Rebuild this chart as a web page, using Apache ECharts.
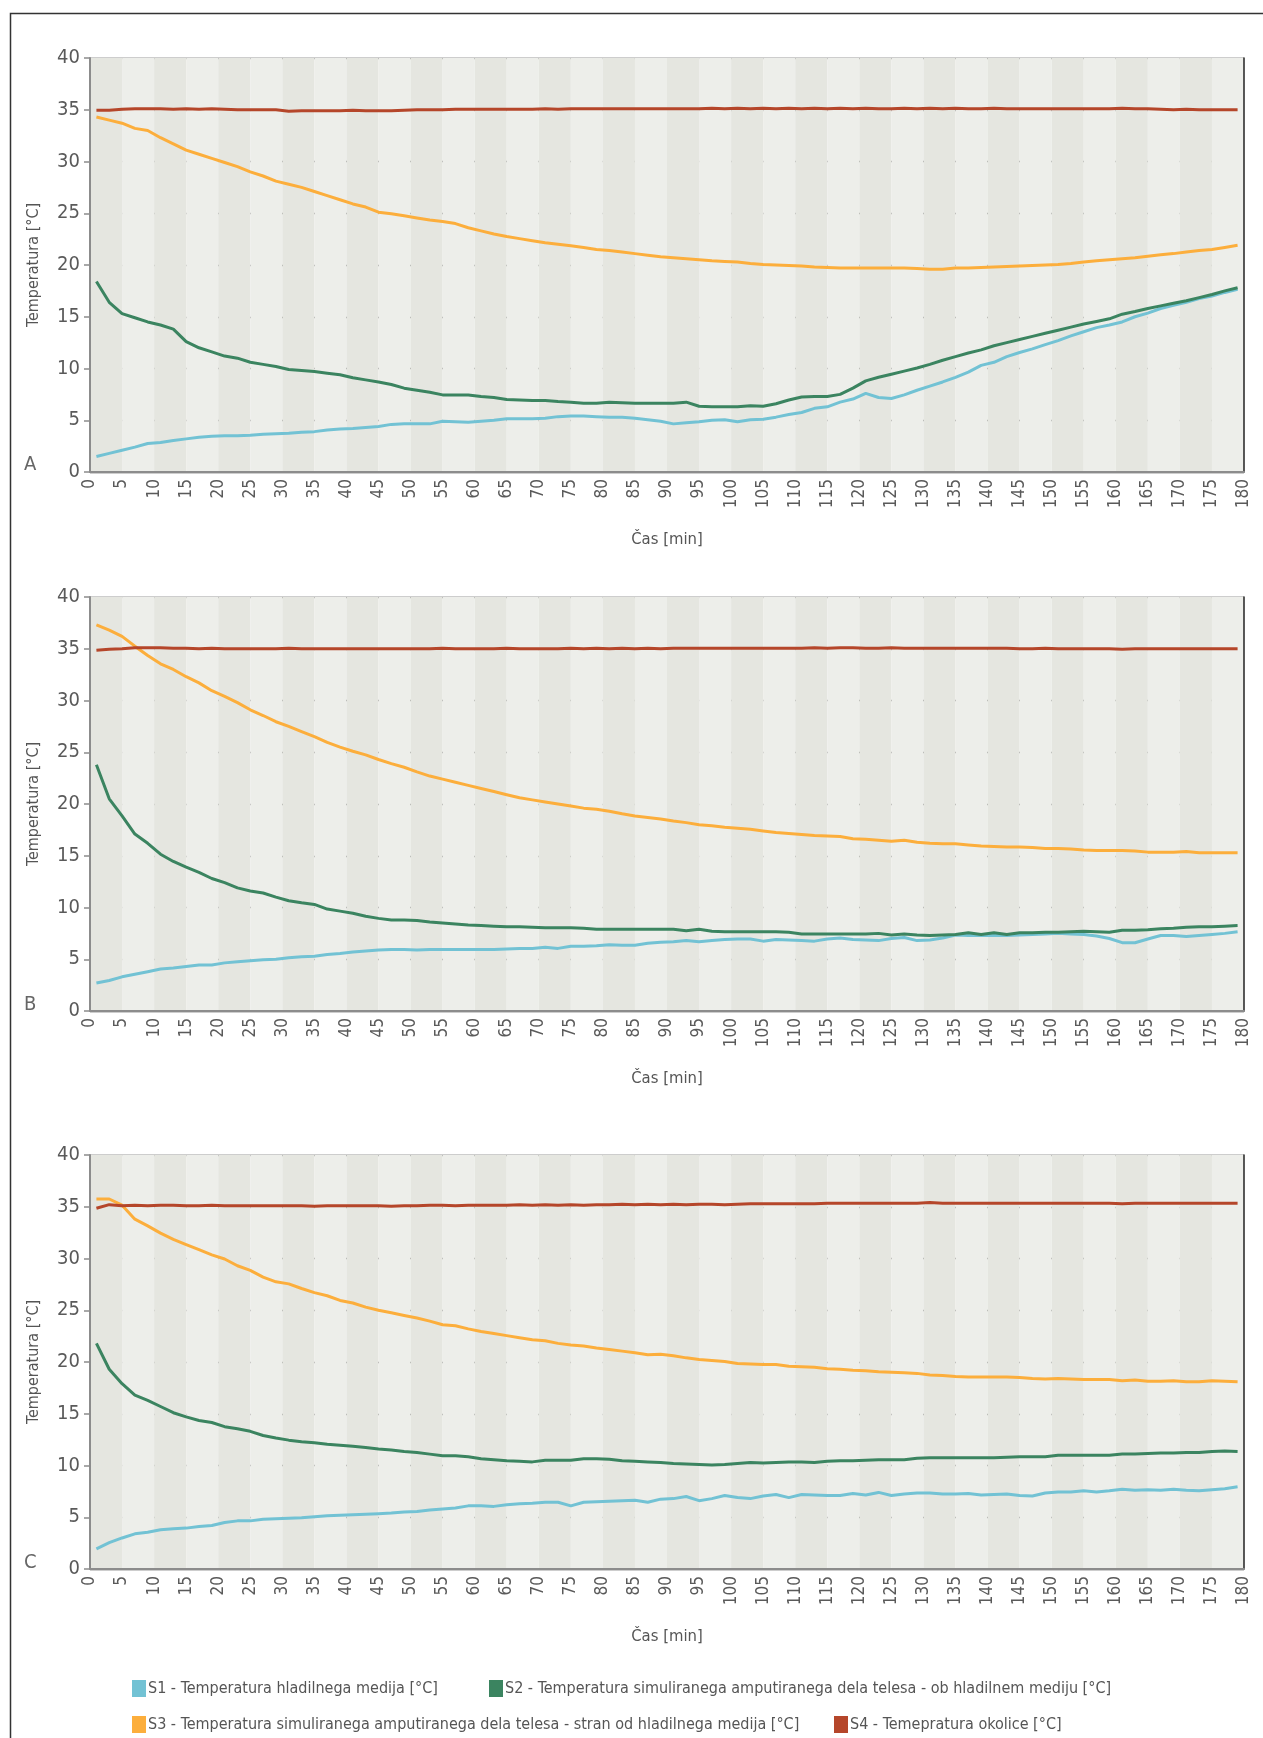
<!DOCTYPE html>
<html>
<head>
<meta charset="utf-8">
<script src="https://cdn.jsdelivr.net/npm/echarts@6/dist/echarts.min.js"></script>
<style>
html,body{margin:0;padding:0;background:#fff;}
#chart{width:1263px;height:1738px;}
</style>
</head>
<body>
<div id="chart"></div>
<script>
// ---- data ----
const TIME = [1,3,5,7,9,11,13,15,17,19,21,23,25,27,29,31,33,35,37,39,41,43,45,47,49,51,53,55,57,59,61,63,65,67,69,71,73,75,77,79,81,83,85,87,89,91,93,95,97,99,101,103,105,107,109,111,113,115,117,119,121,123,125,127,129,131,133,135,137,139,141,143,145,147,149,151,153,155,157,159,161,163,165,167,169,171,173,175,177,179];

const SERIES_NAMES = [
  'S1 - Temperatura hladilnega medija [°C]',
  'S2 - Temperatura simuliranega amputiranega dela telesa - ob hladilnem mediju [°C]',
  'S3 - Temperatura simuliranega amputiranega dela telesa - stran od hladilnega medija [°C]',
  'S4 - Temepratura okolice [°C]'
];
const PANEL_LABELS = ['A', 'B', 'C'];
const X_TITLE = 'Čas [min]';
const Y_TITLE = 'Temperatura [°C]';

// Panel A
const A_S1 = [1.5,1.8,2.1,2.4,2.75, 2.85,3.05,3.2,3.35,3.45, 3.5,3.5,3.55,3.65,3.7, 3.75,3.85,3.9,4.05,4.15, 4.2,4.3,4.4,4.6,4.65, 4.65,4.65,4.9,4.85,4.8, 4.9,5.0,5.15,5.15,5.15, 5.2,5.35,5.4,5.4,5.35, 5.3,5.3,5.2,5.05,4.9, 4.65,4.75,4.85,5.0,5.05, 4.85,5.05,5.1,5.3,5.55, 5.75,6.15,6.3,6.75,7.05, 7.6,7.2,7.1,7.45,7.9, 8.3,8.7,9.15,9.65,10.3, 10.6,11.15,11.55,11.9,12.3, 12.7,13.15,13.55,13.95,14.2, 14.5,15.0,15.35,15.8,16.1, 16.4,16.75,17.0,17.35,17.65];
const A_S2 = [18.4,16.4,15.3,14.9,14.5, 14.2,13.8,12.6,12.0,11.6, 11.2,11.0,10.6,10.4,10.2, 9.9,9.8,9.7,9.55,9.4, 9.1,8.9,8.7,8.45,8.1, 7.9,7.7,7.45,7.45,7.45, 7.3,7.2,7.0,6.95,6.9, 6.9,6.8,6.75,6.65,6.65, 6.75,6.7,6.65,6.65,6.65, 6.65,6.75,6.35,6.3,6.3, 6.3,6.4,6.35,6.6,6.95, 7.25,7.3,7.3,7.5,8.1, 8.8,9.15,9.45,9.75,10.05, 10.4,10.8,11.15,11.5,11.8, 12.2,12.5,12.8,13.1,13.4, 13.7,14.0,14.3,14.55,14.8, 15.25,15.5,15.8,16.05,16.3, 16.55,16.85,17.15,17.5,17.8];
const A_S3 = [34.3,34.0,33.7,33.2,33.0, 32.3,31.7,31.1,30.7,30.3, 29.9,29.5,29.0,28.6,28.1, 27.8,27.5,27.1,26.7,26.3, 25.9,25.6,25.1,24.95,24.75, 24.55,24.35,24.2,24.0,23.6, 23.3,23.0,22.75,22.55,22.35, 22.15,22.0,21.85,21.7,21.5, 21.4,21.25,21.1,20.95,20.8, 20.7,20.6,20.5,20.4,20.35, 20.3,20.15,20.05,20.0,19.95, 19.9,19.8,19.75,19.7,19.7, 19.7,19.7,19.7,19.7,19.65, 19.6,19.6,19.7,19.7,19.75, 19.8,19.85,19.9,19.95,20.0, 20.05,20.15,20.3,20.4,20.5, 20.6,20.7,20.85,21.0,21.1, 21.25,21.4,21.5,21.7,21.9];
const A_S4 = [34.95,34.95,35.05,35.1,35.1, 35.1,35.05,35.1,35.05,35.1, 35.05,35.0,35.0,35.0,35.0, 34.85,34.9,34.9,34.9,34.9, 34.95,34.9,34.9,34.9,34.95, 35.0,35.0,35.0,35.05,35.05, 35.05,35.05,35.05,35.05,35.05, 35.1,35.05,35.1,35.1,35.1, 35.1,35.1,35.1,35.1,35.1, 35.1,35.1,35.1,35.15,35.1, 35.15,35.1,35.15,35.1,35.15, 35.1,35.15,35.1,35.15,35.1, 35.15,35.1,35.1,35.15,35.1, 35.15,35.1,35.15,35.1,35.1, 35.15,35.1,35.1,35.1,35.1, 35.1,35.1,35.1,35.1,35.1, 35.15,35.1,35.1,35.05,35.0, 35.05,35.0,35.0,35.0,35.0];

// Panel B
const B_S1 = [2.7,2.95,3.3,3.55,3.8, 4.05,4.15,4.3,4.45,4.45, 4.65,4.75,4.85,4.95,5.0, 5.15,5.25,5.3,5.45,5.55, 5.7,5.8,5.9,5.95,5.95, 5.9,5.95,5.95,5.95,5.95, 5.95,5.95,6.0,6.05,6.05, 6.15,6.05,6.25,6.25,6.3, 6.4,6.35,6.35,6.55,6.65, 6.7,6.8,6.7,6.8,6.9, 6.95,6.95,6.75,6.9,6.85, 6.8,6.75,6.95,7.05,6.9, 6.85,6.8,7.0,7.1,6.8, 6.85,7.05,7.35,7.3,7.3, 7.3,7.3,7.35,7.4,7.45, 7.5,7.45,7.4,7.25,7.0, 6.6,6.6,6.95,7.3,7.3, 7.2,7.3,7.4,7.5,7.65];
const B_S2 = [23.8,20.5,18.85,17.1,16.2, 15.15,14.45,13.9,13.4,12.8, 12.4,11.9,11.6,11.4,11.0, 10.65,10.45,10.3,9.85,9.65, 9.45,9.15,8.95,8.8,8.8, 8.75,8.6,8.5,8.4,8.3, 8.25,8.2,8.15,8.15,8.1, 8.05,8.05,8.05,8.0,7.9, 7.9,7.9,7.9,7.9,7.9, 7.9,7.75,7.9,7.7,7.65, 7.65,7.65,7.65,7.65,7.6, 7.45,7.45,7.45,7.45,7.45, 7.45,7.5,7.35,7.45,7.35, 7.3,7.35,7.4,7.55,7.4, 7.55,7.4,7.55,7.55,7.6, 7.6,7.65,7.7,7.65,7.6, 7.8,7.8,7.85,7.95,8.0, 8.1,8.15,8.15,8.2,8.25];
const B_S3 = [37.3,36.8,36.2,35.25,34.35, 33.55,33.0,32.3,31.7,30.95, 30.4,29.8,29.1,28.55,27.95, 27.5,27.0,26.5,25.95,25.5, 25.1,24.75,24.3,23.9,23.55, 23.1,22.7,22.4,22.1,21.8, 21.5,21.2,20.9,20.6,20.4, 20.2,20.0,19.8,19.6,19.5, 19.3,19.05,18.85,18.7,18.55, 18.35,18.2,18.0,17.9,17.75, 17.65,17.55,17.4,17.25,17.15, 17.05,16.95,16.9,16.85,16.65, 16.6,16.5,16.4,16.5,16.3, 16.2,16.15,16.15,16.05,15.95, 15.9,15.85,15.85,15.8,15.7, 15.7,15.65,15.55,15.5,15.5, 15.5,15.45,15.35,15.35,15.35, 15.4,15.3,15.3,15.3,15.3];
const B_S4 = [34.85,34.95,35.0,35.1,35.1, 35.1,35.05,35.05,35.0,35.05, 35.0,35.0,35.0,35.0,35.0, 35.05,35.0,35.0,35.0,35.0, 35.0,35.0,35.0,35.0,35.0, 35.0,35.0,35.05,35.0,35.0, 35.0,35.0,35.05,35.0,35.0, 35.0,35.0,35.05,35.0,35.05, 35.0,35.05,35.0,35.05,35.0, 35.05,35.05,35.05,35.05,35.05, 35.05,35.05,35.05,35.05,35.05, 35.05,35.1,35.05,35.1,35.1, 35.05,35.05,35.1,35.05,35.05, 35.05,35.05,35.05,35.05,35.05, 35.05,35.05,35.0,35.0,35.05, 35.0,35.0,35.0,35.0,35.0, 34.95,35.0,35.0,35.0,35.0, 35.0,35.0,35.0,35.0,35.0];

// Panel C
const C_S1 = [1.95,2.55,3.0,3.4,3.55, 3.8,3.9,3.95,4.1,4.2, 4.5,4.65,4.65,4.8,4.85, 4.9,4.95,5.05,5.15,5.2, 5.25,5.3,5.35,5.4,5.5, 5.55,5.7,5.8,5.9,6.1, 6.1,6.05,6.2,6.3,6.35, 6.45,6.45,6.1,6.45,6.5, 6.55,6.6,6.65,6.45,6.75, 6.8,7.0,6.6,6.8,7.1, 6.9,6.8,7.05,7.2,6.9, 7.2,7.15,7.1,7.1,7.3, 7.15,7.4,7.1,7.25,7.35, 7.35,7.25,7.25,7.3,7.15, 7.2,7.25,7.1,7.05,7.35, 7.45,7.45,7.55,7.45,7.55, 7.7,7.6,7.65,7.6,7.7, 7.6,7.55,7.65,7.75,7.95];
const C_S2 = [21.8,19.3,17.9,16.8,16.3, 15.7,15.1,14.7,14.35,14.15, 13.75,13.55,13.3,12.9,12.65, 12.45,12.3,12.2,12.05,11.95, 11.85,11.75,11.6,11.5,11.35, 11.25,11.1,10.95,10.95,10.85, 10.65,10.55,10.45,10.4,10.35, 10.5,10.5,10.5,10.65,10.65, 10.6,10.45,10.4,10.35,10.3, 10.2,10.15,10.1,10.05,10.1, 10.2,10.3,10.25,10.3,10.35, 10.35,10.3,10.4,10.45,10.45, 10.5,10.55,10.55,10.55,10.7, 10.75,10.75,10.75,10.75,10.75, 10.75,10.8,10.85,10.85,10.85, 11.0,11.0,11.0,11.0,11.0, 11.1,11.1,11.15,11.2,11.2, 11.25,11.25,11.35,11.4,11.35];
const C_S3 = [35.75,35.75,35.15,33.8,33.15, 32.45,31.85,31.35,30.85,30.35, 29.95,29.3,28.85,28.2,27.75, 27.55,27.1,26.7,26.4,25.95, 25.7,25.3,25.0,24.75,24.5, 24.25,23.95,23.6,23.5,23.2, 22.95,22.75,22.55,22.35,22.15, 22.05,21.8,21.65,21.55,21.35, 21.2,21.05,20.9,20.7,20.75, 20.6,20.4,20.25,20.15,20.05, 19.85,19.8,19.75,19.75,19.6, 19.55,19.5,19.35,19.3,19.2, 19.15,19.05,19.0,18.95,18.9, 18.75,18.7,18.6,18.55,18.55, 18.55,18.55,18.5,18.4,18.35, 18.4,18.35,18.3,18.3,18.3, 18.2,18.25,18.15,18.15,18.2, 18.1,18.1,18.2,18.15,18.1];
const C_S4 = [34.85,35.2,35.1,35.15,35.1, 35.15,35.15,35.1,35.1,35.15, 35.1,35.1,35.1,35.1,35.1, 35.1,35.1,35.05,35.1,35.1, 35.1,35.1,35.1,35.05,35.1, 35.1,35.15,35.15,35.1,35.15, 35.15,35.15,35.15,35.2,35.15, 35.2,35.15,35.2,35.15,35.2, 35.2,35.25,35.2,35.25,35.2, 35.25,35.2,35.25,35.25,35.2, 35.25,35.3,35.3,35.3,35.3, 35.3,35.3,35.35,35.35,35.35, 35.35,35.35,35.35,35.35,35.35, 35.4,35.35,35.35,35.35,35.35, 35.35,35.35,35.35,35.35,35.35, 35.35,35.35,35.35,35.35,35.35, 35.3,35.35,35.35,35.35,35.35, 35.35,35.35,35.35,35.35,35.35];

const PANELS = [
  [A_S1, A_S2, A_S3, A_S4],
  [B_S1, B_S2, B_S3, B_S4],
  [C_S1, C_S2, C_S3, C_S4]
];

// ---- styling ----
const COLORS = ['#72c2d4', '#3b8460', '#fcae3c', '#b5462a'];
const FONT = '"Liberation Sans Narrow", "DejaVu Sans Condensed", "Roboto Condensed", sans-serif';
const GRID_TOPS = [58, 597, 1155];
const GRID_H = 414;
const LETTER_Y = [467, 1007, 1565];

const chart = echarts.init(document.getElementById('chart'), null, {renderer: 'canvas'});

const grids = [], xAxes = [], yAxes = [], series = [], graphics = [];

GRID_TOPS.forEach((top, g) => {
  grids.push({left: 90, right: 19, top: top, height: GRID_H, containLabel: false});
  xAxes.push({
    gridIndex: g, type: 'value', min: 0, max: 180, interval: 5,
    name: X_TITLE, nameLocation: 'middle', nameGap: 59,
    nameTextStyle: {fontFamily: FONT, fontSize: 16.5, color: '#555'},
    axisLine: {show: true, onZero: false, lineStyle: {color: '#8c8c8c', width: 2}},
    axisTick: {show: false},
    axisLabel: {rotate: 90, fontFamily: FONT, fontSize: 17, color: '#5a5a5a', margin: 7},
    splitLine: {show: false},
    splitArea: {show: true, areaStyle: {color: ['#e5e6e0', '#edeeea']}}
  });
  yAxes.push({
    gridIndex: g, type: 'value', min: 0, max: 40, interval: 5, position: 'left',
    name: Y_TITLE, nameLocation: 'middle', nameGap: 48,
    nameTextStyle: {fontFamily: FONT, fontSize: 16, color: '#555'},
    axisLine: {show: true, lineStyle: {color: '#8c8c8c', width: 2}},
    axisTick: {show: true, length: 6, lineStyle: {color: '#8c8c8c', width: 1.5}},
    axisLabel: {fontFamily: FONT, fontSize: 20, color: '#5a5a5a', margin: 10},
    splitLine: {show: true, lineStyle: {color: '#3a3a3a', width: 1.3}}
  });
  yAxes.push({
    gridIndex: g, type: 'value', min: 0, max: 40, interval: 5, position: 'right',
    axisLine: {show: true, lineStyle: {color: '#222', width: 1.5}},
    axisTick: {show: false}, axisLabel: {show: false}, splitLine: {show: false}
  });
  PANELS[g].forEach((vals, s) => {
    series.push({
      name: SERIES_NAMES[s], type: 'line', xAxisIndex: g, yAxisIndex: g * 2,
      data: TIME.map((t, i) => [t, vals[i]]),
      showSymbol: false, symbol: 'none',
      lineStyle: {color: COLORS[s], width: 3},
      itemStyle: {color: COLORS[s]},
      z: 3 + s, animation: false
    });
  });
  graphics.push({
    type: 'text', left: 24, top: LETTER_Y[g] - 12,
    style: {text: PANEL_LABELS[g], fontFamily: FONT, fontSize: 20, fill: '#666'}
  });
});

graphics.push({
  type: 'rect', left: 8, top: 11, z: -1,
  shape: {x: 0, y: 0, width: 1300, height: 1800},
  style: {fill: 'none', stroke: '#333', lineWidth: 1.5}
});

const legendPos = [[132, 1680], [489, 1680], [132, 1716], [834, 1716]];
const legends = SERIES_NAMES.map((n, i) => ({
  data: [n], left: legendPos[i][0], top: legendPos[i][1],
  icon: 'rect', itemWidth: 14, itemHeight: 17, itemGap: 0,
  textStyle: {fontFamily: FONT, fontSize: 16, color: '#555', padding: [0, 0, 0, -3]},
  padding: 0, selectedMode: false
}));

chart.setOption({
  animation: false,
  backgroundColor: '#ffffff',
  grid: grids, xAxis: xAxes, yAxis: yAxes, series: series,
  legend: legends, graphic: graphics
});
</script>
</body>
</html>
